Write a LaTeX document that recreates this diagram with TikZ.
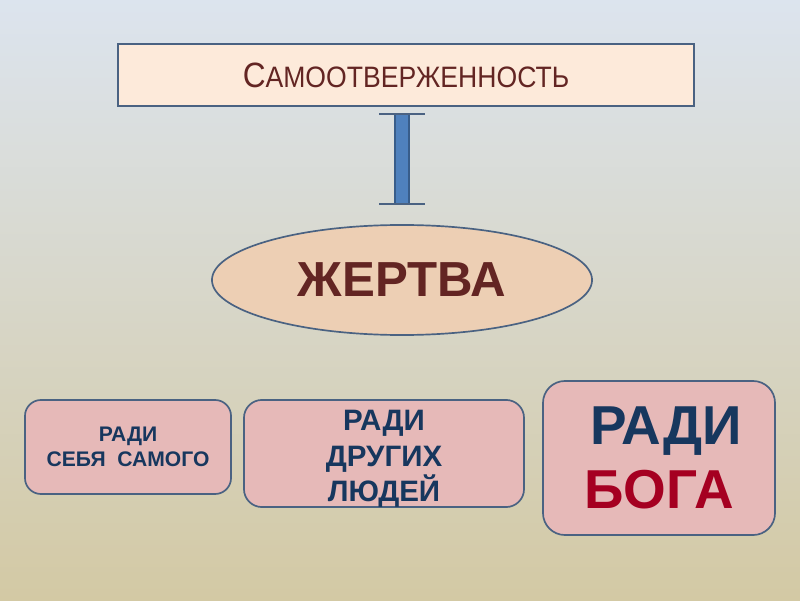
\documentclass[tikz,border=0pt]{standalone}
\usepackage{fontspec}
\setmainfont{Liberation Sans}
\usetikzlibrary{arrows.meta,positioning,shapes.geometric}
\definecolor{bgtop}{RGB}{220,228,238}
\definecolor{bgmid}{RGB}{233,233,222}
\definecolor{bgbot}{RGB}{211,201,164}
\definecolor{rahmen}{RGB}{74,98,130}
\definecolor{kopffill}{RGB}{253,234,218}
\definecolor{ovalfill}{RGB}{237,207,180}
\definecolor{kastenfill}{RGB}{230,185,184}
\definecolor{dunkelrot}{RGB}{99,37,35}
\definecolor{rot}{RGB}{165,0,33}
\definecolor{marine}{RGB}{23,55,94}
\definecolor{balken}{RGB}{79,129,189}
\definecolor{balkenrand}{RGB}{56,93,138}

\begin{document}
\begin{tikzpicture}[
    x=0.025cm, y=0.025cm,
    font=\bfseries,
    kopf/.style={
      draw=rahmen, line width=1.2pt, fill=kopffill,
      minimum width=14.4cm, minimum height=1.55cm, inner sep=0pt,
      text=dunkelrot, font=\mdseries
    },
    oval/.style={
      ellipse, draw=rahmen, line width=1.2pt, fill=ovalfill,
      minimum width=9.5cm, minimum height=2.75cm, inner sep=0pt,
      text=dunkelrot, font=\fontsize{35}{40}\bfseries
    },
    kasten/.style={
      draw=rahmen, line width=1.2pt, fill=kastenfill, align=center,
      inner sep=0pt, text=marine
    },
    balkenlinie/.style={line width=0.38cm, draw=balkenrand},
    balkenkern/.style={line width=0.32cm, draw=balken},
    kappe/.style={line width=1.3pt, draw=rahmen}
  ]
    % --- Hintergrund ---
    \shade[top color=bgtop, middle color=bgmid, bottom color=bgbot]
      (0,0) rectangle (800,600);
    \useasboundingbox (0,0) rectangle (800,600);

    % --- Oberbegriff ---
    \node[kopf] (kopf) at (406,525)
      {\scalebox{0.9}[1]{{\fontsize{25}{28}\selectfont С}{\fontsize{21}{28}\selectfont АМООТВЕРЖЕННОСТЬ}}};

    % --- Opfer ---
    \node[oval] (opfer) at (402,320) {ЖЕРТВА};

    % --- Drei Kaesten ---
    \node[kasten, minimum width=5.15cm, minimum height=2.35cm,
      rounded corners=0.4cm, font=\fontsize{15}{17.5}\bfseries] (selbst) at (128,153)
      {РАДИ\\СЕБЯ~~САМОГО};
    \node[kasten, minimum width=7cm, minimum height=2.675cm,
      rounded corners=0.45cm, font=\fontsize{21}{25}\bfseries] (andere) at (384,146.5)
      {\rule{0pt}{22pt}РАДИ\\ДРУГИХ\\ЛЮДЕЙ};
    \node[kasten, minimum width=5.8cm, minimum height=3.85cm,
      rounded corners=0.55cm, font=\fontsize{39}{45}\bfseries] (gott) at (659,142)
      {\hspace*{0.35cm}РАДИ\\\textcolor{rot}{БОГА}};

    % --- Verbindung ---
    \coordinate (oben) at ([yshift=-0.175cm]kopf.south -| opfer.north);
    \coordinate (unten) at ([yshift=0.5cm]opfer.north);
    \draw[balkenlinie] (oben) -- (unten);
    \draw[balkenkern] ([yshift=-0.03cm]oben) -- ([yshift=0.03cm]unten);
    \draw[kappe] ([xshift=-0.575cm]oben) -- ([xshift=0.575cm]oben);
    \draw[kappe] ([xshift=-0.575cm]unten) -- ([xshift=0.575cm]unten);
\end{tikzpicture}
\end{document}
